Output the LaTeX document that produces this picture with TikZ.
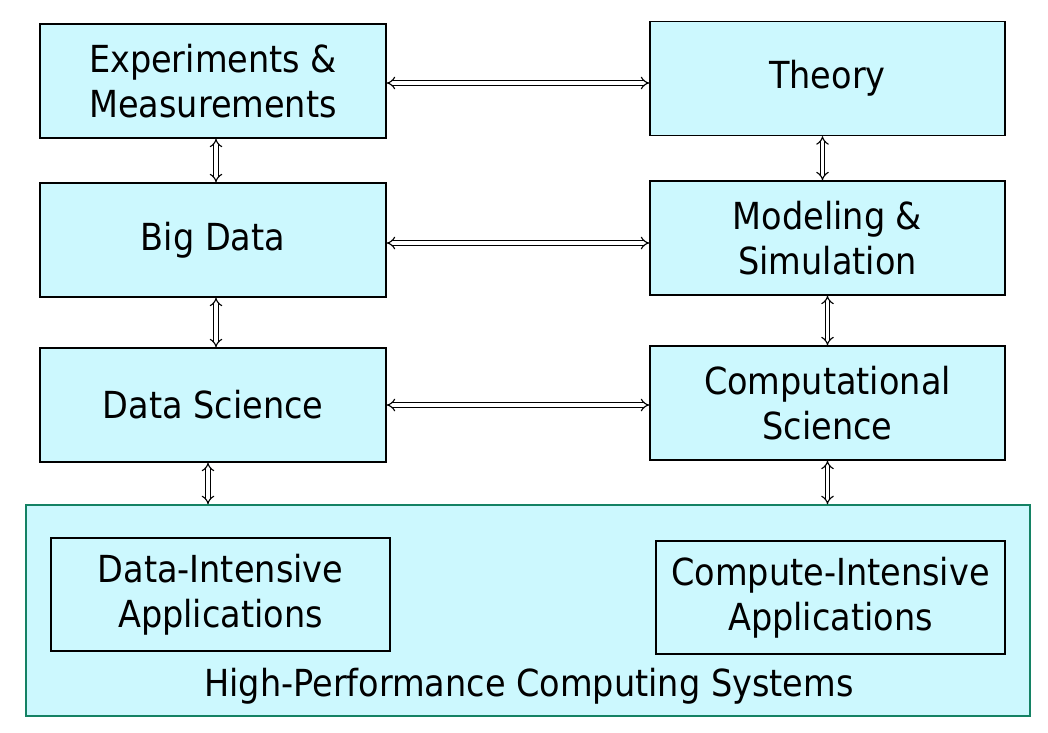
\documentclass[tikz,border=0pt]{standalone}
\usepackage{fontspec}
\setmainfont{DejaVu Sans Condensed}
\usepackage{tikz}
\usetikzlibrary{arrows.meta}
\definecolor{boxcyan}{RGB}{204,248,254}
\definecolor{hpcgreen}{RGB}{20,130,100}
\tikzset{
    every node/.style={font=\fontsize{26.5}{32}\selectfont, align=center}
}
\tikzset{
    topic/.style={rectangle, draw, fill=boxcyan, line width=0.9pt,
    	minimum width=8.65cm, minimum height=2.85cm, inner sep=0pt}
}
\tikzset{
    appbox/.style={rectangle, draw, fill=boxcyan, line width=0.9pt,
    	minimum height=2.83cm, inner sep=0pt}
}
\tikzset{
    link/.style={double, double distance=2.3pt, line width=0.8pt,
    	{Implies[length=4pt]}-{Implies[length=4pt]}}
}

\begin{document}
\begin{tikzpicture}[x=0.025cm, y=-0.025cm]
	\useasboundingbox (0,0) rectangle (1048,732);
	\node (hpc) [rectangle, draw=hpcgreen, fill=boxcyan, line width=1pt,
		minimum width=25.1cm, minimum height=5.275cm] at (528, 610.5) {};
	\node (hpclabel) at (529, 686) {High-Performance Computing Systems};

	\node (em) [topic] at ( 213,  81) {Experiments \&\\Measurements};
	\node (th) [topic, minimum width=8.875cm] at (827.5, 78.5) {Theory};
	\node (bd) [topic] at ( 213, 240) {Big Data};
	\node (ms) [topic, minimum width=8.875cm] at (827.5, 238) {Modeling \&\\Simulation};
	\node (ds) [topic] at ( 213, 405) {Data Science};
	\node (cs) [topic, minimum width=8.875cm] at (827.5, 403) {Computational\\Science};

	\node (dia) [appbox, minimum width=8.475cm] at (220.5, 594.5) {Data-Intensive\\Applications};
	\node (cia) [appbox, minimum width=8.725cm] at (830.5, 597.5) {Compute-Intensive\\Applications};

	\draw [link] ([yshift=-2*0.025cm]em.east) -- ([yshift=-2*0.025cm]em.east -| th.west);
	\draw [link] ([yshift=-3*0.025cm]bd.east) -- ([yshift=-3*0.025cm]bd.east -| ms.west);
	\draw [link] (ds.east) -- (ds.east -| cs.west);
	\draw [link] ([xshift=3*0.025cm]em.south) -- ([xshift=3*0.025cm]bd.north);
	\draw [link] ([xshift=3*0.025cm]bd.south) -- ([xshift=3*0.025cm]ds.north);
	\draw [link] ([xshift=-5*0.025cm]ds.south) -- ([xshift=-5*0.025cm]ds.south |- hpc.north);
	\draw [link] ([xshift=-5*0.025cm]th.south) -- ([xshift=-5*0.025cm]ms.north);
	\draw [link] (ms.south) -- (cs.north);
	\draw [link] (cs.south) -- (cs.south |- hpc.north);
\end{tikzpicture}
\end{document}
